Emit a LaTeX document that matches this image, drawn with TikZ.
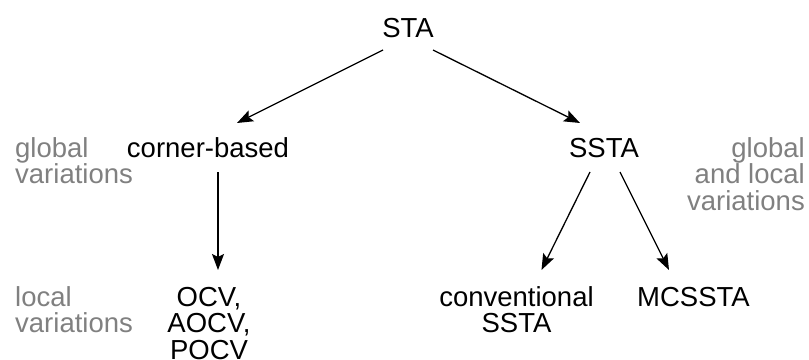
\documentclass[tikz,border=0pt]{standalone}
\usepackage{fontspec}
\setmainfont{Liberation Sans}
\usetikzlibrary{arrows.meta,calc}
\definecolor{notegray}{RGB}{128,128,128}
\begin{document}
\begin{tikzpicture}[x=1pt,y=-1pt,
  lbl/.style={inner sep=0pt,font=\fontsize{27.5}{26.5}\selectfont},
  note/.style={lbl,text=notegray},
  arr/.style={-{Stealth[length=16pt,width=12pt,inset=3pt]},line width=1.3pt}]
\useasboundingbox (0,0) rectangle (809,359);

% tree nodes (multi-line nodes are placed by the baseline of their last line)
\node[lbl,anchor=base] (sta)  at (408,37)  {STA};
\node[lbl,anchor=base] (cb)   at (208,157) {corner-based};
\node[lbl,anchor=base] (ssta) at (604,157) {SSTA};
\node[lbl,anchor=base,align=center] (ocv)  at (209,359) {OCV,\\AOCV,\\POCV};
\node[lbl,anchor=base,align=center] (conv) at (516.5,332.5) {conventional\\SSTA};
\node[lbl,anchor=base] (mc)   at (693.5,306) {MCSSTA};

% side notes
\node[note,anchor=base west,align=left] (gv) at (15,183.5) {global\\variations};
\node[note,anchor=base west,align=left] (lv) at (15,332.5) {local\\variations};
\node[note,anchor=base east,align=right] (glv) at (805,210) {global\\and local\\variations};

% connectors
\draw[arr] ($(sta.base)+(-25,13)$) -- ($(cb.base)+(29,-34)$);
\draw[arr] ($(sta.base)+(25,13)$) -- ($(ssta.base)+(-24,-34)$);
\draw[arr] ($(cb.base)+(10,15)$) -- ($(ocv.base)+(9,-89)$);
\draw[arr] ($(ssta.base)+(-14,15)$) -- ($(conv.base)+(25,-62.5)$);
\draw[arr] ($(ssta.base)+(16,15)$) -- ($(mc.base)+(-24.5,-36)$);
\end{tikzpicture}
\end{document}
